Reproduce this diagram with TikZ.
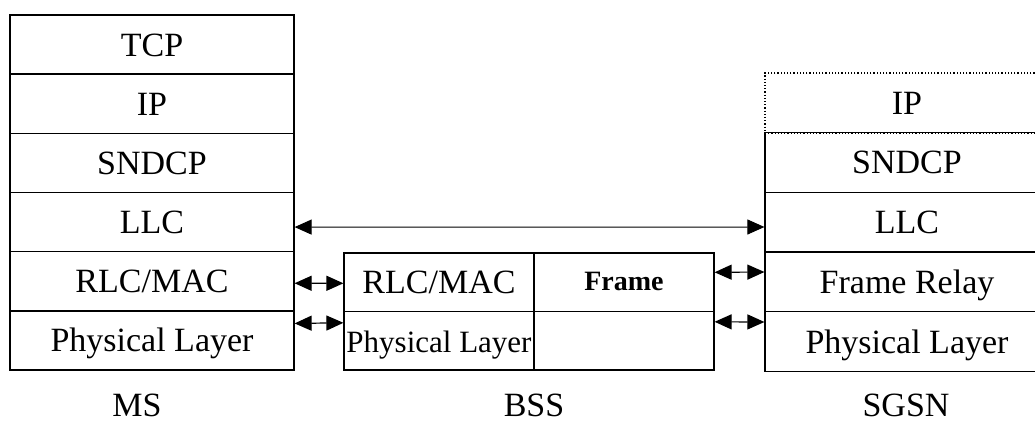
\documentclass[tikz,border=0pt]{standalone}
\usepackage{fontspec}
\setmainfont{Liberation Serif}
\usetikzlibrary{arrows.meta}
\begin{document}
\begin{tikzpicture}[x=1pt,y=-1pt,
  layer/.style={draw, line width=1.2pt, minimum width=284pt, minimum height=59.3pt,
    inner sep=0pt, text height=23pt, text depth=0pt, font=\fontsize{34}{40}\selectfont},
  cell/.style={layer, minimum height=58.5pt},
  caption/.style={anchor=base, inner sep=0pt, font=\fontsize{34}{40}\selectfont},
  tip/.tip={Triangle[length=17pt 0,width=15pt 0]},
  link/.style={line width=1.2pt, tip-tip}]
\useasboundingbox (0,0) rectangle (1035,422);
\clip (0,0) rectangle (1035,422);

% MS protocol stack
\node[layer] (mstcp)  at (152,44.58)  {TCP};
\node[layer] (msip)   at (152,103.75) {IP};
\node[layer] (mssnd)  at (152,162.92) {SNDCP};
\node[layer] (msllc)  at (152,222.08) {LLC};
\node[layer] (msrlc)  at (152,281.25) {RLC/MAC};
\node[layer] (msphy)  at (152,340.42) {Physical Layer};

% BSS relay
\node[cell, minimum width=190pt] (bssrlc) at (439,282.3) {RLC/MAC};
\node[cell, minimum width=190pt, font=\fontsize{31}{36}\selectfont] (bssphy) at (439,340.8) {Physical Layer};
\node[cell, minimum width=180pt, font=\fontsize{28}{32}\selectfont\bfseries, text height=17pt] (bssfr) at (624,282.3) {Frame};
\node[cell, minimum width=180pt] (bssbot) at (624,340.8) {};

% SGSN protocol stack
\node[layer, dotted, minimum height=60pt] (sgip) at (907,103) {IP};
\node[layer] (sgsnd) at (907,162.5) {SNDCP};
\node[layer] (sgllc) at (907,222)   {LLC};
\node[layer] (sgfr)  at (907,282)   {Frame Relay};
\node[layer] (sgphy) at (907,341.5) {Physical Layer};

% peer links
\draw[link, line width=1pt] ([yshift=-5pt]msllc.east) -- ([yshift=-5pt]sgllc.west);
\draw[link] ([yshift=-2pt]msrlc.east) -- ([yshift=-1pt]bssrlc.west);
\draw[link] ([yshift=17pt]msphy.east) -- ([yshift=18pt]bssphy.west);
\draw[link] ([yshift=10pt]bssfr.east) -- ([yshift=10pt]sgfr.west);
\draw[link] ([yshift=19pt]bssbot.east) -- ([yshift=19.5pt]sgphy.west);

% node names
\node[caption] (lms)   at (137,416) {MS};
\node[caption] (lbss)  at (534,416) {BSS};
\node[caption] (lsgsn) at (906,416) {SGSN};
\end{tikzpicture}
\end{document}
